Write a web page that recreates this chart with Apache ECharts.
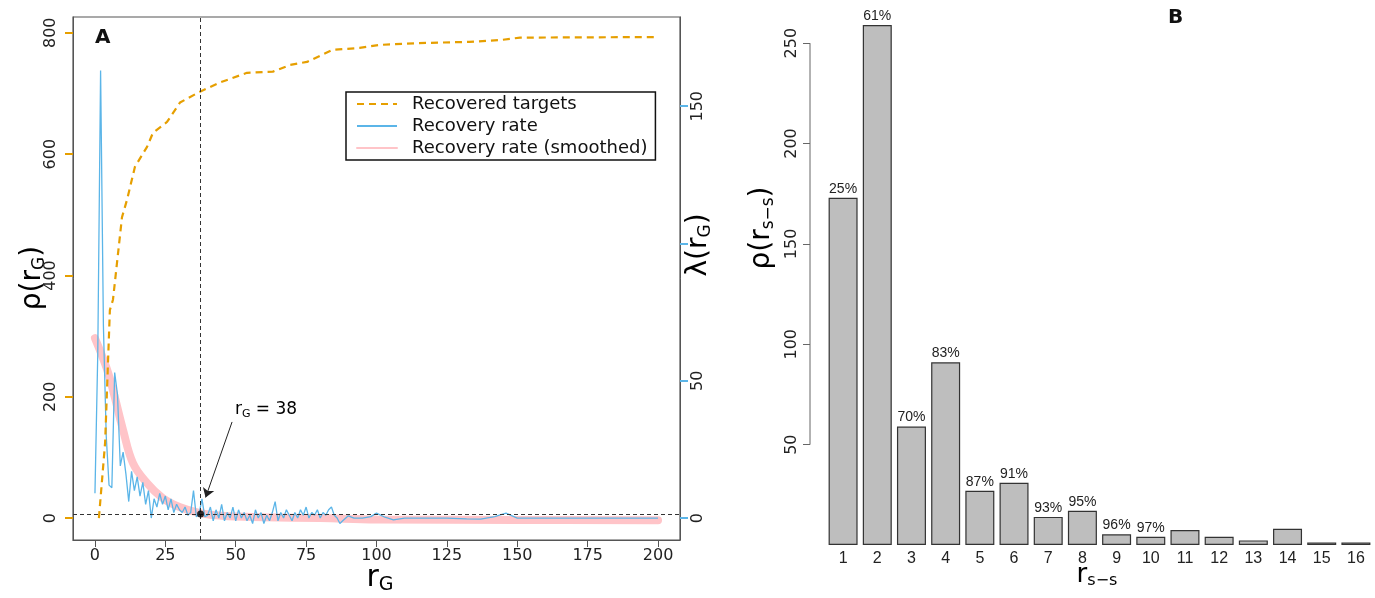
<!DOCTYPE html>
<html>
<head>
<meta charset="utf-8">
<script src="https://cdn.jsdelivr.net/npm/echarts@6/dist/echarts.min.js"></script>
<style>
  html, body { margin: 0; padding: 0; background: #fff; }
  #chart { width: 1375px; height: 598px; }
</style>
</head>
<body>
<div id="chart"></div>
<script>
// ---- panel A ----
// recovered targets, left axis  [r_G, count]
const targetsCurve = [[1.4,0],[3.6,124],[5.3,343],[6.4,360],[9.6,496],[11.4,525],[14.2,579],[18.5,612],[20.6,635],
  [25.6,653],[30.2,685],[37.3,703],[44.4,718],[54,734],[63.2,736],[69.3,747],[75.3,752],[84.5,772],[94,775],
  [101,780],[115,783],[133,785],[144,788],[151,792],[200,793]];
// recovery rate, right axis, r_G = 0..88
const rateHead = [9,60,163,70,30,12,11,53,45,19,24,16,6,17,10,15,8,13,5,10,0,7,4,9,5,8,3,7,2,5,3,2,4,1,2,10,0.5,1.5,7,0.5,
  1,4,-1,3,0,5,-1,2,0,4,-1,3,0,2,-1,1,-2,3,0,2,-2,1,-1,2,6,-1,2,0,3,1,-1,2,0,3,1,4,0,2,1,3,0,2,1,3,4,1,0,-2,-1];
// recovery rate tail  [r_G, rate]
const rateTail = [[90,0.8],[92,0],[95,0],[98,0.5],[100,1.8],[103,0.3],[106,-0.7],[110,0],[118,0],[125,0],
  [132,-0.3],[137,-0.4],[142,0.5],[146,1.8],[150,0],[160,0],[200,0]];
// smoothed recovery rate  [r_G, rate]
const rateSmooth = [[0,65.5],[4,55],[6.4,46.6],[10,32],[13.5,20],[18.5,12.7],[24,7.3],[30,4],[37.3,1.8],
  [45,0.8],[60,0.3],[80,0],[100,-0.5],[150,-0.7],[200,-0.8]];
const cutoff = [37.5, 1.5];
const xTicksA = [0,25,50,75,100,125,150,175,200];
const leftTicksA = [0,200,400,600,800];
const rightTicksA = [0,50,100,150];
const rightLabelsA = [0,50,150];   // the 100 label sits under the λ title

// ---- panel B ----
const rssCats = ['1','2','3','4','5','6','7','8','9','10','11','12','13','14','15','16'];
const rssCounts = [173,259,59,91,27,31,14,17,5.3,4.1,7.5,4.1,2.3,8.1,1.3,1.3];
const rssPct = ['25%','61%','70%','83%','87%','91%','93%','95%','96%','97%','','','','','',''];
const yTicksB = [50,100,150,200,250];

const rateRaw = rateHead.map((v, i) => [i, v]).concat(rateTail);

const fA = 'DejaVu Sans';
const fB = 'Liberation Sans';
const ORANGE = '#E69F00', BLUE = '#5BB5E8', PINK = '#FFC4C8';

const chart = echarts.init(document.getElementById('chart'));

const subRich = (size, font) => ({
  a: { fontSize: size, fontFamily: font, color: '#111' },
  s: { fontSize: Math.round(size * 0.62), fontFamily: font, color: '#111', padding: [Math.round(size * 0.45), 0, 0, 0] }
});

function titleText(id, x, y, text, size, font, rot) {
  return {
    type: 'text', id: id, x: x, y: y, rotation: rot || 0, silent: true,
    style: { text: text, rich: subRich(size, font), align: 'center', verticalAlign: 'middle' }
  };
}

const graphics = [
  { type: 'text', id: 'lblA', x: 95, y: 28, style: { text: 'A', fontSize: 20, fontWeight: 'bold', fontFamily: fA, fill: '#111' } },
  { type: 'text', id: 'lblB', x: 1168, y: 8, style: { text: 'B', fontSize: 20, fontWeight: 'bold', fontFamily: fA, fill: '#111' } },
  titleText('rhoA', 33, 278, '{a|ρ(r}{s|G}{a|)}', 28, fA, Math.PI / 2),
  titleText('lamA', 699, 245, '{a|λ(r}{s|G}{a|)}', 28, fA, Math.PI / 2),
  titleText('rgX', 380, 578, '{a|r}{s|G}', 30, fA, 0),
  titleText('rhoB', 762, 228, '{a|ρ(r}{s|s−s}{a|)}', 28, fA, Math.PI / 2),
  titleText('rssX', 1097, 575, '{a|r}{s|s−s}', 26, fA, 0),
  titleText('ann', 266, 410, '{a|r}{s|G}{a| = 38}', 17, fA, 0)
];

chart.setOption({
  animation: false,
  textStyle: { fontFamily: fA },
  grid: [
    { left: 73, top: 17, width: 607, height: 523, show: true, borderColor: '#555', borderWidth: 1.2, backgroundColor: 'transparent' },
    { left: 826, top: 3, width: 547, height: 542 }
  ],
  legend: {
    left: 346, top: 92, orient: 'vertical',
    borderColor: '#111', borderWidth: 1.5, borderRadius: 0,
    padding: [3, 8, 3, 10], itemGap: 4, itemWidth: 40, itemHeight: 12,
    itemStyle: { opacity: 0, borderWidth: 0 },
    textStyle: { fontSize: 18, fontFamily: fA, color: '#111', padding: [0, 0, 0, 10] },
    data: ['Recovered targets', 'Recovery rate', 'Recovery rate (smoothed)']
  },
  xAxis: [
    {
      gridIndex: 0, type: 'value', min: -7.8, max: 207.8,
      axisLine: { show: true, onZero: false, lineStyle: { color: '#555' } },
      axisTick: { show: true, length: 7, customValues: xTicksA, lineStyle: { color: '#555' } },
      axisLabel: { customValues: xTicksA, fontSize: 16, color: '#222', margin: 8, fontFamily: fA },
      splitLine: { show: false }
    },
    {
      gridIndex: 1, type: 'category', data: rssCats,
      axisLine: { show: false, onZero: false }, axisTick: { show: false },
      axisLabel: { fontSize: 16, color: '#222', margin: 6, fontFamily: fB, interval: 0 }
    }
  ],
  yAxis: [
    {
      gridIndex: 0, type: 'value', min: -36, max: 826,
      axisLine: { show: true, onZero: false, lineStyle: { color: '#555' } },
      axisTick: { show: true, length: 8, customValues: leftTicksA, lineStyle: { color: ORANGE, width: 2 } },
      axisLabel: { customValues: leftTicksA, rotate: 90, fontSize: 16, color: '#222', margin: 14, fontFamily: fA },
      splitLine: { show: false }
    },
    {
      gridIndex: 0, type: 'value', position: 'right', min: -8, max: 182.5,
      axisLine: { show: true, onZero: false, lineStyle: { color: '#555' } },
      axisTick: { show: true, length: 8, customValues: rightTicksA, lineStyle: { color: BLUE, width: 2 } },
      axisLabel: { customValues: rightLabelsA, rotate: 90, fontSize: 16, color: '#222', margin: 10, fontFamily: fA },
      splitLine: { show: false }
    },
    {
      gridIndex: 1, type: 'value', min: 0, max: 270, offset: 16,
      axisLine: { show: false, onZero: false },
      axisTick: { show: true, length: 7, customValues: yTicksB, lineStyle: { color: '#666' } },
      axisLabel: { customValues: yTicksB, rotate: 90, fontSize: 16, color: '#222', margin: 10, fontFamily: fA },
      splitLine: { show: false }
    }
  ],
  series: [
    {
      name: 'Recovery rate (smoothed)', type: 'line', xAxisIndex: 0, yAxisIndex: 1,
      data: rateSmooth, smooth: 0.4, symbol: 'none', z: 2,
      lineStyle: { color: PINK, width: 8, cap: 'round' }, itemStyle: { color: PINK }
    },
    {
      name: 'Recovery rate', type: 'line', xAxisIndex: 0, yAxisIndex: 1,
      data: rateRaw, symbol: 'none', z: 3,
      lineStyle: { color: BLUE, width: 1.3 }, itemStyle: { color: BLUE },
      markLine: {
        silent: true, symbol: 'none', label: { show: false },
        lineStyle: { color: '#333', type: [4, 3], width: 1 },
        data: [{ xAxis: cutoff[0] }, { yAxis: cutoff[1] }]
      }
    },
    {
      name: 'Recovered targets', type: 'line', xAxisIndex: 0, yAxisIndex: 0,
      data: targetsCurve, symbol: 'none', z: 4,
      lineStyle: { color: ORANGE, width: 2.2, type: [7, 5] }, itemStyle: { color: ORANGE }
    },
    {
      name: 'cutoff', type: 'scatter', xAxisIndex: 0, yAxisIndex: 1,
      data: [cutoff], symbolSize: 7, itemStyle: { color: '#000' }, z: 5,
      markLine: {
        silent: true, symbol: ['none', 'arrow'], symbolSize: 9, label: { show: false },
        lineStyle: { color: '#222', type: 'solid', width: 1 },
        data: [[{ coord: [48.7, 35] }, { coord: [39.3, 7.5] }]]
      }
    },
    {
      name: 'rss', type: 'bar', xAxisIndex: 1, yAxisIndex: 2,
      data: rssCounts, barWidth: 29,
      itemStyle: { color: '#BEBEBE', borderColor: '#333', borderWidth: 1.2 },
      label: {
        show: true, position: 'top', distance: 2, fontSize: 14, color: '#222', fontFamily: fB,
        formatter: p => rssPct[p.dataIndex]
      }
    }
  ]
});

// panel B axis line only spans the tick range
const yb0 = chart.convertToPixel({ yAxisIndex: 2 }, yTicksB[0]);
const yb1 = chart.convertToPixel({ yAxisIndex: 2 }, yTicksB[yTicksB.length - 1]);
graphics.push({
  type: 'line', id: 'axB', silent: true,
  shape: { x1: 810, y1: yb0, x2: 810, y2: yb1 },
  style: { stroke: '#666', lineWidth: 1 }
});
chart.setOption({ graphic: graphics });
</script>
</body>
</html>
